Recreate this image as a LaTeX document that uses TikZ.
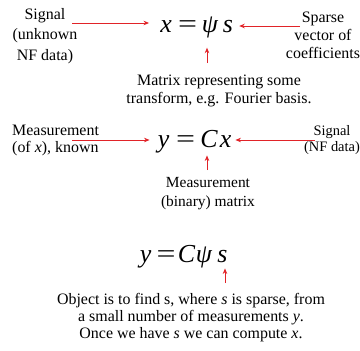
\documentclass[tikz,border=0pt]{standalone}
\usepackage{fontspec}
\setmainfont{Liberation Serif}
\newfontfamily\serfam{Liberation Serif}
\usepackage{graphicx}
\usetikzlibrary{arrows.meta}
\definecolor{arrred}{RGB}{225,35,40}
\begin{document}
\begin{tikzpicture}[x=1bp,y=1bp,
  txt/.style={font=\serfam\fontsize{16}{18}\selectfont, align=center, inner sep=0},
  sym/.style={font=\serfam\fontsize{26}{26}\selectfont\itshape, inner sep=0, anchor=base},
  arr/.style={draw=arrred, line width=0.8bp, -{Stealth[length=5.5bp,width=4.5bp]}}]
\useasboundingbox (0,0) rectangle (360,-351);

% equation 1
\node[sym] (x1) at (166,-32) {x};
\node[sym] (eqa) at (187.5,-32) {\upshape\scalebox{1.3}[1]{=}};
\node[sym] (psi1) at (210,-32) {ψ};
\node[sym] (s1) at (228,-32) {s};

% equation 2
\node[sym] (y2) at (163.5,-147) {y};
\node[sym] (eqb) at (185.5,-147) {\upshape\scalebox{1.3}[1]{=}};
\node[sym] (C2) at (209,-147) {C};
\node[sym] (x2) at (225.5,-147) {x};

% equation 3
\node[sym] (y3) at (145.5,-262) {y};
\node[sym] (eqc) at (166,-262) {\upshape\scalebox{1.3}[1]{=}};
\node[sym] (C3) at (186.5,-262) {C};
\node[sym] (psi3) at (204,-262) {ψ};
\node[sym] (s3) at (222.5,-262) {s};

% texts
\node[txt, font=\serfam\fontsize{16}{20.5}\selectfont] (sigL) at (45,-36) {Signal\\(unknown\\NF data)};
\node[txt] (sparse) at (323,-35.5) {Sparse\\vector of\\coefficients};
\node[txt] (mat) at (219,-90.5) {Matrix representing some\\transform, e.g. Fourier basis.};
\node[txt, align=left, anchor=west] (measL) at (12,-140.5) {Measurement\\(of \textit{x}), known};
\node[txt, font=\serfam\fontsize{14.5}{17}\selectfont] (sigR) at (332,-140) {Signal\\(NF data)};
\node[txt, font=\serfam\fontsize{15.5}{19}\selectfont] (measM) at (208,-194) {Measurement\\(binary) matrix};
\node[txt, font=\serfam\fontsize{16}{17}\selectfont] (obj) at (191,-317.5) {Object is to find s, where \textit{s} is sparse, from\\a small number of measurements \textit{y}.\\Once we have \textit{s} we can compute \textit{x}.};

% arrows
\coordinate (a1) at (72,-23);
\draw[arr, shorten >=11bp] (a1) -- (a1 -| x1.west);
\coordinate (a2) at (300,-26);
\draw[arr, shorten >=6bp] (a2) -- (a2 -| s1.east);
\coordinate (a3) at (207,-63);
\draw[arr, shorten >=10bp] (a3) -- (a3 |- psi1.south);
\coordinate (a4) at (72,-140);
\draw[arr, shorten >=8bp] (a4) -- (a4 -| y2.west);
\coordinate (a5) at (315,-140);
\draw[arr, shorten >=4bp] (a5) -- (a5 -| x2.east);
\coordinate (a6) at (207,-170);
\draw[arr, shorten >=8bp] (a6) -- (a6 |- C2.south);
\coordinate (a7) at (225,-283);
\draw[arr, shorten >=6bp] (a7) -- (a7 |- s3.south);
\end{tikzpicture}
\end{document}
